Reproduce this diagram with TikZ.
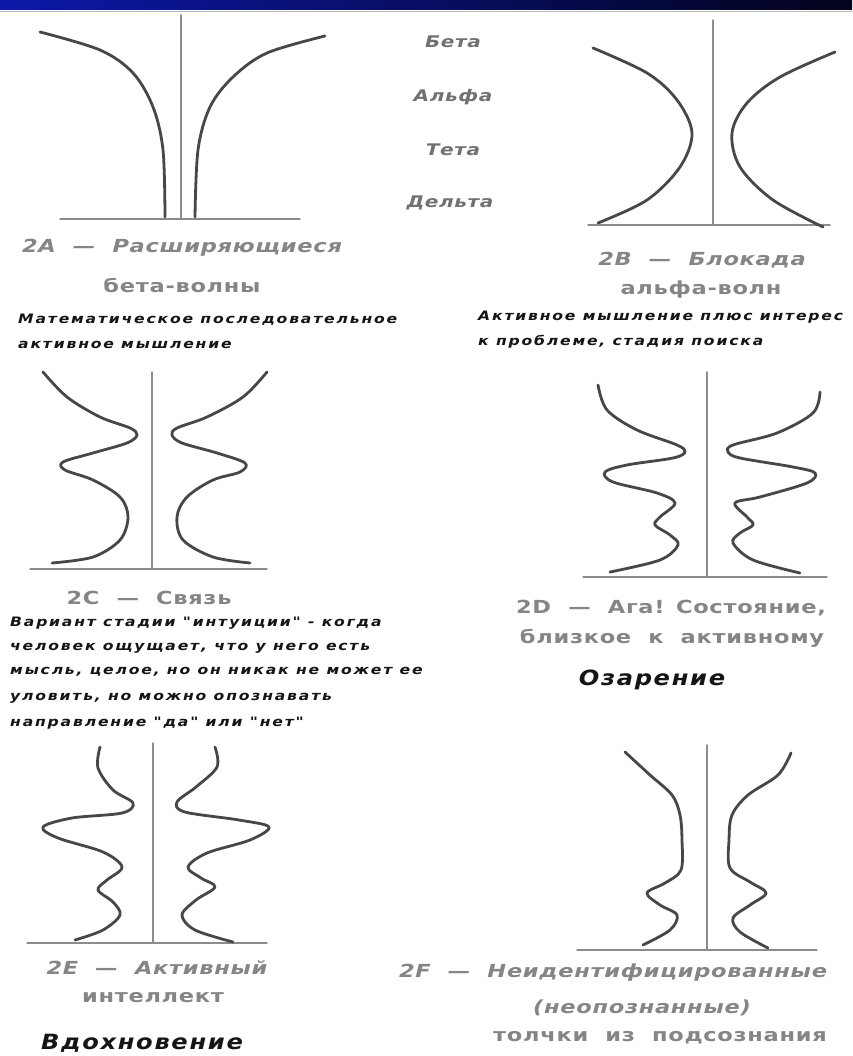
\documentclass[tikz,border=0pt]{standalone}
\usepackage{fontspec}
\usepackage{xcolor}
\usepackage{tikz}
\usetikzlibrary{positioning}
\newfontfamily\brcapfont{DejaVu Sans}[FakeStretch=1.25, LetterSpace=4]
\newfontfamily\brnotefont{DejaVu Sans}[FakeStretch=1.2, LetterSpace=14]
\newfontfamily\brheadfont{DejaVu Sans}[FakeStretch=1.15, LetterSpace=8]
\definecolor{brBarL}{HTML}{0C18A8}
\definecolor{brBarR}{HTML}{03031C}
\definecolor{brInk}{HTML}{151515}
\definecolor{brWave}{HTML}{474747}
\definecolor{brAxis}{HTML}{8C8C8C}
\definecolor{brMuted}{HTML}{858585}
\tikzset{
  br diagram/.style={x=1pt, y=-1pt, line cap=round, line join=round},
  br axis/.style={draw=brAxis, line width=1.4pt},
  br wave/.style={draw=brWave, line width=2.8pt, smooth, tension=0.55},
  br caption/.style={font={\brcapfont\fontsize{18}{20}\selectfont\bfseries}, text=brMuted, inner sep=0pt},
  br caption it/.style={br caption, font={\brcapfont\fontsize{18}{20}\selectfont\bfseries\itshape}},
  br band/.style={br caption, font={\brcapfont\fontsize{16}{20}\selectfont\bfseries\itshape}, text=brMuted!85!black},
  br note/.style={font={\brnotefont\fontsize{13}{15}\selectfont\bfseries\itshape}, text=brInk, inner sep=0pt, anchor=west},
  br head/.style={font={\brheadfont\fontsize{21}{24}\selectfont\bfseries\itshape}, text=brInk, inner sep=0pt}
}
\begin{document}
\begin{tikzpicture}[br diagram]
\useasboundingbox (0,0) rectangle (852,1056);
\fill[white] (0,0) rectangle (852,1056);
\shade[left color=brBarL, right color=brBarR] (0,0) rectangle (852,10);
\draw[brAxis!60, line width=0.8pt] (0,11) -- (852,11);

% axes of the six panels
\foreach \ax/\at/\ab/\xl/\xr in {181/15/219/60/300, 713/20/225/588/830,
    152/372/569/30/267, 707/372/577/583/827, 153/743/943/27/267, 707/745/950/577/817}{
  \draw[br axis] (\ax,\at) -- (\ax,\ab);
  \draw[br axis] (\xl,\ab) -- (\xr,\ab);
}

% 2A
\draw[br wave] plot coordinates {(40,32) (100,50) (133,73) (153,107) (163,150) (165,217)};
\draw[br wave] plot coordinates {(325,36) (267,53) (233,77) (210,107) (198,150) (195,217)};
% 2B
\draw[br wave] plot coordinates {(593,48) (647,73) (677,100) (692,133) (680,167) (647,200) (598,223)};
\draw[br wave] plot coordinates {(835,52) (780,77) (747,103) (732,133) (740,167) (773,200) (823,227)};
% 2C
\draw[br wave] plot coordinates {(43,372) (67,397) (100,417) (130,428) (137,435) (127,443) (93,453)
  (63,462) (65,470) (93,480) (120,497) (128,517) (120,540) (93,557) (52,563)};
\draw[br wave] plot coordinates {(267,372) (243,397) (207,417) (177,428) (172,435) (182,443) (217,453)
  (245,463) (240,472) (213,480) (187,497) (177,517) (183,540) (213,557) (250,563)};
% 2D
\draw[br wave] plot coordinates {(598,385) (607,410) (637,430) (677,445) (685,452) (673,458) (627,465)
  (605,472) (613,482) (657,493) (675,503) (660,517) (655,525) (670,535) (678,545) (660,560) (610,572)};
\draw[br wave] plot coordinates {(820,392) (813,413) (777,433) (733,445) (728,452) (740,458) (793,467)
  (815,473) (807,483) (760,497) (735,503) (747,517) (753,525) (740,533) (733,543) (753,560) (800,573)};
% 2E
\draw[br wave] plot coordinates {(100,747) (98,768) (113,790) (133,803) (122,813) (72,818) (43,827)
  (58,838) (103,852) (122,867) (107,880) (98,890) (113,902) (120,915) (103,930) (75,940)};
\draw[br wave] plot coordinates {(215,747) (217,767) (196,787) (177,802) (185,812) (239,820) (269,827)
  (250,840) (207,853) (188,867) (201,878) (215,887) (196,900) (182,915) (195,930) (233,942)};
% 2F
\draw[br wave] plot coordinates {(625,752) (650,775) (672,795) (680,815) (682,840) (681,870) (665,883)
  (647,893) (660,905) (677,915) (670,930) (643,945)};
\draw[br wave] plot coordinates {(791,753) (778,775) (748,795) (732,815) (729,840) (730,868) (750,882)
  (766,893) (750,905) (733,918) (740,932) (768,948)};

\node[br band] (beta) at (453,42) {Бета};
\node[br band] (alpha) at (453,97) {Альфа};
\node[br band] (theta) at (453,150) {Тета};
\node[br band] (delta) at (450,203) {Дельта};

\node[br caption it] (capA1) at (182,248) {2A \ — \ Расширяющиеся};
\node[br caption] (capA2) at (182,285) {бета-волны};
\node[br caption it] (capB1) at (702,260) {2B \ — \ Блокада};
\node[br caption] (capB2) at (701,290) {альфа-волн};

\node[br note] (noteA1) at (18,320) {Математическое последовательное};
\node[br note] (noteA2) at (18,345) {активное мышление};
\node[br note] (noteB1) at (478,317) {Активное мышление плюс интерес};
\node[br note] (noteB2) at (478,342) {к проблеме, стадия поиска};

\node[br caption] (capC) at (149,598) {2C \ — \ Связь};
\foreach \n/\y/\txt in {1/623/{Вариант стадии "интуиции" - когда},
    2/648/{человек ощущает, что у него есть},
    3/672/{мысль, целое, но он никак не может ее},
    4/698/{уловить, но можно опознавать},
    5/723/{направление "да" или "нет"}}
  \node[br note] (noteC\n) at (10,\y) {\txt};

\node[br caption] (capD1) at (671,608) {2D \ — \ Ага! Состояние,};
\node[br caption] (capD2) at (672,638) {близкое \ к \ активному};
\node[br head] (headD) at (652,680) {Озарение};

\node[br caption it] (capE1) at (157,968) {2E \ — \ Активный};
\node[br caption] (capE2) at (153,998) {интеллект};
\node[br head] (headE) at (142,1043) {Вдохновение};

\node[br caption it] (capF1) at (613,973) {2F \ — \ Неидентифицированные};
\node[br caption it] (capF2) at (642,1008) {(неопознанные)};
\node[br caption] (capF3) at (660,1038) {толчки \ из \ подсознания};
\end{tikzpicture}
\end{document}
